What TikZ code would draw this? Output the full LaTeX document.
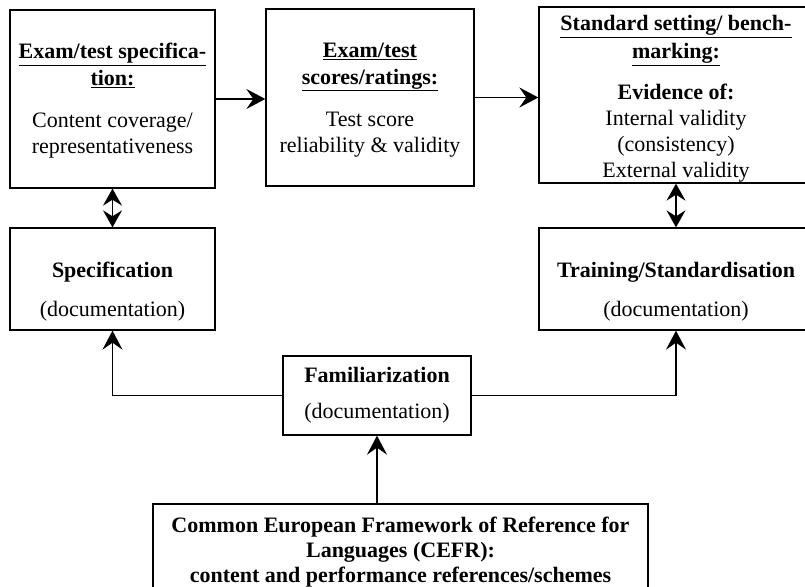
\documentclass[tikz,border=0pt]{standalone}
\usepackage{fontspec}
\setmainfont{Liberation Serif}
\usetikzlibrary{arrows.meta}
\begin{document}
\begin{tikzpicture}[x=1pt,y=-1pt,
  box/.style={draw, line width=1.3pt, inner sep=0pt},
  txt/.style={align=center, font=\fontsize{22}{26}\selectfont, inner sep=0pt},
  tip/.tip={Stealth[length=19pt,width=20pt,inset=7pt]},
  dtip/.tip={Stealth[length=17pt,width=19pt,inset=6pt]},
  conn/.style={line width=1.6pt, -tip},
  dconn/.style={line width=1.6pt, dtip-dtip}]
\fill[white] (0,0) rectangle (805,586);
\clip (0,0) rectangle (805,586);
% boxes
\node[box, minimum width=205pt, minimum height=178pt] (A) at (112.5,99) {};
\node[box, minimum width=208pt, minimum height=177pt] (B) at (370,97.5) {};
\node[box, minimum width=274pt, minimum height=176pt] (C) at (676,95) {};
\node[box, minimum width=205pt, minimum height=102pt] (D) at (112.5,279) {};
\node[box, minimum width=274pt, minimum height=102pt] (E) at (676,279) {};
\node[box, minimum width=188pt, minimum height=79pt] (F) at (377,395.5) {};
\node[box, minimum width=495pt, minimum height=112pt] (G) at (400.5,560) {};
% texts
\node[txt] (At) at (112.5,101) {\textbf{\underline{Exam/test specifica-}}\\[1pt]\textbf{\underline{tion:}}\\[16pt]Content coverage/\\representativeness};
\node[txt] (Bt) at (370,100) {\textbf{\underline{Exam/test}}\\[1pt]\textbf{\underline{scores/ratings:}}\\[16pt]Test score\\reliability \& validity};
\node[txt] (Ct) at (676,99) {\textbf{\underline{Standard setting/ bench-}}\\[2pt]\textbf{\underline{marking:}}\\[15pt]\textbf{Evidence of:}\\Internal validity\\(consistency)\\External validity};
\node[txt] (Dt) at (112.5,292) {\textbf{Specification}\\[13pt](documentation)};
\node[txt] (Et) at (676,292) {\textbf{Training/Standardisation}\\[13pt](documentation)};
\node[txt] (Ft) at (377,395.5) {\textbf{Familiarization}\\[10pt](documentation)};
\node[txt, font=\bfseries\fontsize{22}{25}\selectfont] (Gt) at (400.5,552) {Common European Framework of Reference for\\Languages (CEFR):\\content and performance references/schemes};
% connectors
\draw[conn] (A.east) -- (A.east -| B.west);
\draw[conn] (B.east) -- (B.east -| C.west);
\draw[dconn] (A.south) -- (D.north);
\draw[dconn] (C.south) -- (E.north);
\draw[conn] (F.west) -| (D.south);
\draw[conn] (F.east) -| (E.south);
\draw[conn] (F.south |- G.north) -- (F.south);
\end{tikzpicture}
\end{document}
